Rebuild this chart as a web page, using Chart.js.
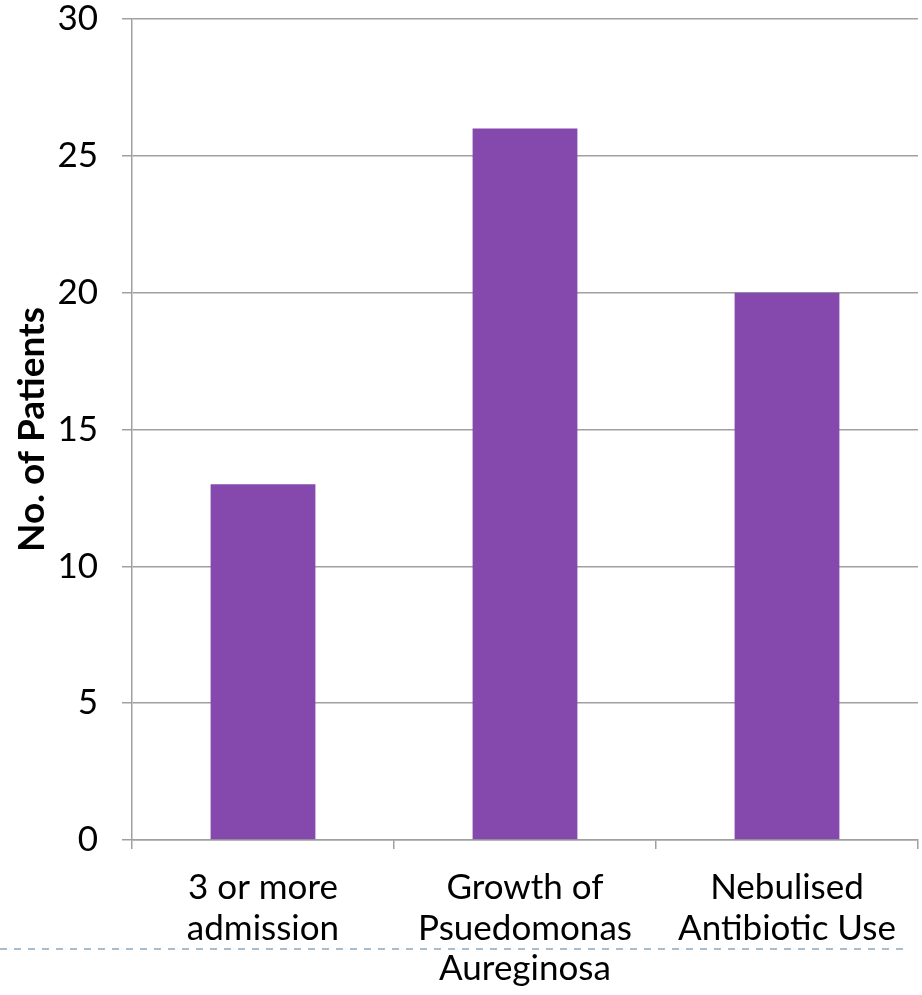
<!DOCTYPE html>
<html lang="en">

<head>
    <meta charset="UTF-8">
    <title>No. of Patients</title>
    <script src="https://cdn.jsdelivr.net/npm/chart.js"></script>
    <style>
        html, body { margin: 0; padding: 0; background: #fff; }
        #wrap { width: 922px; height: 995px; }
    </style>
</head>

<body>
    <div id="wrap"><canvas id="patientsChart" width="922" height="995"></canvas></div>
    <script>
        const categories = [
            ['3 or more', 'admission'],
            ['Growth of', 'Psuedomonas', 'Aureginosa'],
            ['Nebulised', 'Antibiotic Use']
        ];
        const patients = [13, 26, 20];
        const yTicks = [0, 5, 10, 15, 20, 25, 30];

        // slide footer rule (dashed) below the axis labels
        const footerLine = {
            id: 'footerLine',
            afterDraw(chart) {
                const ctx = chart.ctx;
                ctx.save();
                ctx.strokeStyle = '#a9bccc';
                ctx.lineWidth = 2;
                ctx.setLineDash([7, 7]);
                ctx.beginPath();
                ctx.moveTo(0, 949);
                ctx.lineTo(908, 949);
                ctx.stroke();
                ctx.restore();
            }
        };

        const ctx = document.getElementById('patientsChart').getContext('2d');

        new Chart(ctx, {
            type: 'bar',
            data: {
                labels: categories,
                datasets: [{
                    label: 'No. of Patients',
                    data: patients,
                    backgroundColor: '#8549ad',
                    barPercentage: 0.4,
                    categoryPercentage: 1.0
                }]
            },
            options: {
                responsive: false,
                animation: false,
                layout: {
                    padding: { top: 19, right: 4, left: 0, bottom: 0 }
                },
                plugins: {
                    legend: { display: false },
                    tooltip: { enabled: false }
                },
                scales: {
                    y: {
                        min: 0,
                        max: 30,
                        afterBuildTicks: axis => {
                            axis.ticks = yTicks.map(v => ({ value: v }));
                        },
                        afterFit: axis => {
                            axis.width = 132;
                            // keep the plot top at the 30 line, labels may overhang
                            axis.paddingTop = 0;
                            axis.paddingBottom = 0;
                        },
                        border: { color: '#a0a0a0', width: 1.5 },
                        grid: {
                            color: '#a0a0a0',
                            lineWidth: 1.5,
                            tickLength: 10
                        },
                        ticks: {
                            padding: 24,
                            color: '#000',
                            font: { family: 'Lato', size: 35 }
                        },
                        title: {
                            display: true,
                            text: 'No. of Patients',
                            color: '#000',
                            padding: { top: 10, bottom: 0 },
                            font: { family: 'Lato', size: 37, weight: 'bold' }
                        }
                    },
                    x: {
                        afterFit: axis => { axis.height = 155; },
                        border: { color: '#a0a0a0', width: 1.5 },
                        grid: {
                            offset: true,
                            drawOnChartArea: false,
                            color: '#a0a0a0',
                            lineWidth: 1.5,
                            tickLength: 9
                        },
                        ticks: {
                            padding: 19,
                            color: '#000',
                            maxRotation: 0,
                            font: { family: 'Lato', size: 35, lineHeight: 1.15 }
                        }
                    }
                }
            },
            plugins: [footerLine]
        });
    </script>
</body>

</html>
